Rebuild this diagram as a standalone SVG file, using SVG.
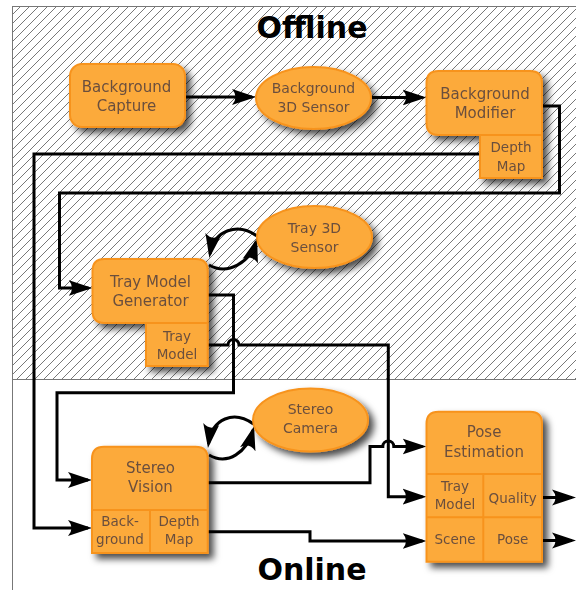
<svg xmlns="http://www.w3.org/2000/svg" width="576" height="590" viewBox="0 0 576 590">
<style>
.nd{fill:#fcaa3a;stroke:#f7931e;stroke-width:2}
.dv{stroke:#f7931e;stroke-width:2;fill:none}
.t{font-family:"DejaVu Sans",sans-serif;font-size:15px;fill:#6b4f3e;text-anchor:middle}
.s{font-size:13.5px}
.e{font-size:14px}
.h{font-family:"DejaVu Sans",sans-serif;font-size:30px;font-weight:bold;fill:#000;text-anchor:middle}
.c{fill:none;stroke:#000;stroke-width:3;marker-end:url(#ah)}
.fr{stroke:#777;stroke-width:1;fill:none}
</style>
<defs>
<pattern id="hatch" patternUnits="userSpaceOnUse" width="9" height="9">
<path d="M-2,2 L2,-2 M0,9 L9,0 M7,11 L11,7" stroke="#555" stroke-width="0.8"/>
</pattern>
<filter id="sh" x="-20%" y="-20%" width="150%" height="150%">
<feDropShadow dx="5" dy="5" stdDeviation="3.5" flood-color="#000" flood-opacity="0.7"/>
</filter>
<marker id="ah" markerUnits="userSpaceOnUse" markerWidth="30" markerHeight="20" viewBox="0 -10 30 20" refX="20" refY="0" orient="auto">
<path d="M0,-8 L24,0 L0,8 Q7,0 0,-8 Z" fill="#000"/>
</marker>
</defs>
<rect x="12" y="6" width="566" height="373" fill="#fff"/>
<rect x="12" y="6" width="566" height="373" fill="url(#hatch)"/>
<path class="fr" d="M12.5,6 V590 M12,6.5 H576 M12,379.5 H576"/>
<text class="h" x="312" y="38">Offline</text>
<text class="h" x="312" y="580">Online</text>

<g id="connectors">
<path class="c" d="M185,97 H252"/>
<path class="c" d="M371,97.5 H422.5"/>
<path class="c" d="M542,106 H559.5 V193 H59.5 V288 H88.5"/>
<path class="c" d="M480,154 H34 V528 H88"/>
<path class="c" d="M207.7,295 H233.5 V392.7 H57 V480 H88"/>
<path class="c" d="M207.7,345 H228 A5.5,5.5 0 0 1 239,345 H388.3 V496.7 H422.5"/>
<path class="c" d="M207.7,482.7 H370 V446.5 H382.8 A5.5,5.5 0 0 1 393.8,446.5 H422.5"/>
<path class="c" d="M207.7,531.7 H310 V541 H422.5"/>
<path class="c" d="M542,497.5 H572"/>
<path class="c" d="M542,540.5 H572"/>
<path class="c" d="M257,236 C238,222 214,230 210,254"/>
<path class="c" d="M209,265 C228,276 250,262 256,242"/>
<path class="c" d="M253.5,424 C234,410 212,418 208.5,444"/>
<path class="c" d="M209,455 C228,466 247,452 253,430"/>
</g>

<g id="bg-capture" filter="url(#sh)">
<rect class="nd" x="70" y="64" width="115" height="63" rx="12"/>
<text class="t" x="126.5" y="92">Background</text>
<text class="t" x="126.5" y="111">Capture</text>
</g>

<g id="bg-3d-sensor" filter="url(#sh)">
<ellipse class="nd" cx="313.5" cy="98" rx="57.5" ry="31"/>
<text class="t e" x="313.5" y="93">Background</text>
<text class="t e" x="313.5" y="112">3D Sensor</text>
</g>

<g id="bg-modifier" filter="url(#sh)">
<path class="nd" d="M438.5,71 H530 Q542,71 542,83 V178 H480 V135 H438.5 Q426.5,135 426.5,123 V83 Q426.5,71 438.5,71 Z"/>
<path class="dv" d="M480,135 H542"/>
<text class="t" x="485" y="99">Background</text>
<text class="t" x="485" y="118">Modifier</text>
<text class="t s" x="511" y="152">Depth</text>
<text class="t s" x="511" y="171">Map</text>
</g>

<g id="tray-3d-sensor" filter="url(#sh)">
<ellipse class="nd" cx="314.5" cy="237" rx="57.5" ry="31"/>
<text class="t e" x="314.5" y="233">Tray 3D</text>
<text class="t e" x="314.5" y="252">Sensor</text>
</g>

<g id="tray-model-generator" filter="url(#sh)">
<path class="nd" d="M104.5,259 H195.7 Q207.7,259 207.7,271 V366 H146 V323 H104.5 Q92.5,323 92.5,311 V271 Q92.5,259 104.5,259 Z"/>
<path class="dv" d="M146,323 H207.7"/>
<text class="t" x="150.5" y="287">Tray Model</text>
<text class="t" x="150.5" y="306">Generator</text>
<text class="t s" x="177" y="341">Tray</text>
<text class="t s" x="177" y="359">Model</text>
</g>

<g id="stereo-camera" filter="url(#sh)">
<ellipse class="nd" cx="310.5" cy="420" rx="57.5" ry="31.5"/>
<text class="t e" x="310.5" y="414">Stereo</text>
<text class="t e" x="310.5" y="433">Camera</text>
</g>

<g id="stereo-vision" filter="url(#sh)">
<path class="nd" d="M104,446.7 H195.7 Q207.7,446.7 207.7,458.7 V553 H92 V458.7 Q92,446.7 104,446.7 Z"/>
<path class="dv" d="M92,510 H207.7 M150,510 V553"/>
<text class="t" x="150.5" y="473">Stereo</text>
<text class="t" x="150.5" y="492">Vision</text>
<text class="t s" x="120" y="526">Back-</text>
<text class="t s" x="120" y="544">ground</text>
<text class="t s" x="179" y="526">Depth</text>
<text class="t s" x="179" y="544">Map</text>
</g>

<g id="pose-estimation" filter="url(#sh)">
<path class="nd" d="M438.5,411.7 H530 Q542,411.7 542,423.7 V561.7 H426.5 V423.7 Q426.5,411.7 438.5,411.7 Z"/>
<path class="dv" d="M426.5,474 H542 M426.5,517.3 H542 M483.3,474 V561.7"/>
<text class="t" x="484" y="437">Pose</text>
<text class="t" x="484" y="457">Estimation</text>
<text class="t s" x="455" y="491">Tray</text>
<text class="t s" x="455" y="509">Model</text>
<text class="t s" x="512.7" y="502.5">Quality</text>
<text class="t s" x="455" y="544">Scene</text>
<text class="t s" x="512.7" y="544">Pose</text>
</g>
</svg>
